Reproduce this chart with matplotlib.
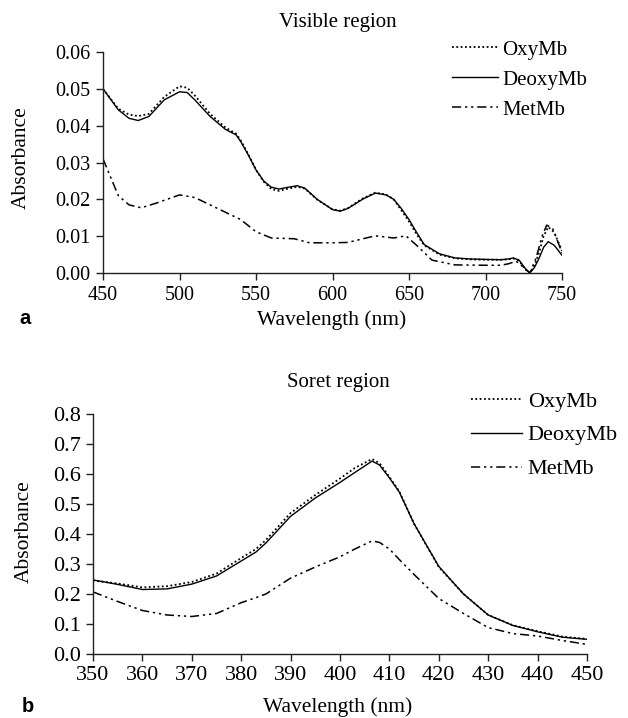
import numpy as np
import matplotlib
matplotlib.use("Agg")
import matplotlib.pyplot as plt

plt.rcParams['font.family'] = ['Liberation Serif', 'DejaVu Serif']

# visible region (a)
wl_vis = [450, 460, 467, 473, 480, 490, 500, 505, 510, 520, 530, 537, 540, 545, 550, 555, 560,
          565, 570, 577, 582, 590, 600, 605, 610, 620, 628, 635, 640, 645, 650, 655, 660, 670,
          680, 690, 700, 710, 715, 718, 722, 726, 729, 732, 735, 738, 741, 745, 750]
deoxy_vis = [0.0500, 0.0443, 0.0420, 0.0414, 0.0425, 0.0470, 0.0492, 0.0490, 0.0470, 0.0425,
             0.0390, 0.0375, 0.0357, 0.0320, 0.0280, 0.0250, 0.0233, 0.0228, 0.0232, 0.0237,
             0.0230, 0.0200, 0.0172, 0.0168, 0.0175, 0.0201, 0.0217, 0.0212, 0.0200, 0.0175,
             0.0145, 0.0110, 0.0077, 0.0052, 0.0041, 0.0038, 0.0037, 0.0036, 0.0038, 0.0041,
             0.0035, 0.0012, 0.0000, 0.0015, 0.0040, 0.0070, 0.0085, 0.0075, 0.0048]
oxy_vis = [0.0500, 0.0446, 0.0430, 0.0426, 0.0432, 0.0478, 0.0507, 0.0503, 0.0482, 0.0432,
           0.0395, 0.0378, 0.0360, 0.0322, 0.0280, 0.0248, 0.0228, 0.0223, 0.0228, 0.0234,
           0.0229, 0.0199, 0.0173, 0.0169, 0.0176, 0.0203, 0.0218, 0.0213, 0.0200, 0.0170,
           0.0140, 0.0105, 0.0075, 0.0050, 0.0040, 0.0037, 0.0036, 0.0036, 0.0037, 0.0040,
           0.0033, 0.0010, 0.0000, 0.0020, 0.0055, 0.0100, 0.0125, 0.0110, 0.0060]
wl_met_vis = [450, 455, 460, 467, 475, 485, 500, 510, 520, 530, 540, 550, 560, 575, 585, 600,
              610, 620, 628, 640, 648, 655, 665, 680, 700, 710, 715, 720, 725, 729, 733, 737,
              740, 744, 750]
met_vis = [0.0310, 0.0260, 0.0210, 0.0185, 0.0177, 0.0190, 0.0212, 0.0205, 0.0185, 0.0165,
           0.0145, 0.0112, 0.0095, 0.0093, 0.0082, 0.0082, 0.0083, 0.0093, 0.0101, 0.0095,
           0.0101, 0.0075, 0.0035, 0.0022, 0.0021, 0.0021, 0.0025, 0.0032, 0.0015, 0.0000,
           0.0040, 0.0100, 0.0130, 0.0120, 0.0055]

# soret region (b)
wl_sor = [350, 355, 360, 365, 370, 375, 380, 383, 385, 390, 395, 400, 403, 406.5, 408, 410,
          412, 415, 420, 425, 430, 435, 440, 445, 450]
deoxy_sor = [0.247, 0.232, 0.215, 0.217, 0.233, 0.260, 0.310, 0.340, 0.370, 0.459, 0.520,
             0.572, 0.605, 0.643, 0.630, 0.587, 0.540, 0.434, 0.292, 0.200, 0.130, 0.095,
             0.074, 0.056, 0.049]
oxy_sor = [0.245, 0.235, 0.222, 0.226, 0.240, 0.268, 0.320, 0.350, 0.380, 0.470, 0.530,
           0.585, 0.620, 0.650, 0.636, 0.590, 0.542, 0.434, 0.290, 0.200, 0.130, 0.096,
           0.076, 0.058, 0.050]
met_sor = [0.207, 0.175, 0.145, 0.130, 0.125, 0.135, 0.171, 0.188, 0.200, 0.253, 0.290,
           0.324, 0.350, 0.377, 0.372, 0.350, 0.315, 0.265, 0.185, 0.135, 0.088, 0.068,
           0.060, 0.045, 0.032]

labels = ["OxyMb", "DeoxyMb", "MetMb"]
dotted = (0, (1, 1.4))
dashdotdot = (0, (6, 2.5, 1.5, 2.5, 1.5, 2.5))

W, H = 628, 718
fig = plt.figure(figsize=(W / 100, H / 100), dpi=100)


def px(x, y):  # pixel -> figure fraction
    return x / W, 1 - y / H


def style(ax, fs):
    for s in ["top", "right"]:
        ax.spines[s].set_visible(False)
    for s in ["left", "bottom"]:
        ax.spines[s].set_linewidth(1.0)
        ax.spines[s].set_color("#222222")
    ax.tick_params(direction="out", length=5, width=1, color="#222222", labelsize=fs, pad=4)


def draw(ax, wl, oxy, deoxy, wl_met, met):
    ax.plot(wl, oxy, color="black", lw=1.3, ls=dotted, label=labels[0])
    ax.plot(wl, deoxy, color="black", lw=1.0, ls="-", label=labels[1])
    ax.plot(wl_met, met, color="black", lw=1.1, ls=dashdotdot, label=labels[2])


ax1 = fig.add_axes([103 / W, 1 - 273 / H, 459 / W, 221 / H])
draw(ax1, wl_vis, oxy_vis, deoxy_vis, wl_met_vis, met_vis)
ax1.set_xlim(450, 750)
ax1.set_ylim(0, 0.06)
ax1.set_xticks(np.arange(450, 751, 50))
ax1.set_yticks(np.arange(0, 0.061, 0.01))
ax1.set_yticklabels(["%.2f" % v for v in np.arange(0, 0.061, 0.01)])
style(ax1, 14.5)
ax1.legend(loc="upper left", bbox_to_anchor=px(452, 40), bbox_transform=fig.transFigure,
           frameon=False, fontsize=15, handlelength=2.2, handletextpad=0.2,
           labelspacing=0.5, borderpad=0, borderaxespad=0)

fig.text(*px(338, 22), "Visible region", ha="center", va="center", fontsize=15)
fig.text(*px(21, 158), "Absorbance", ha="center", va="center", rotation=90, fontsize=15.5)
fig.text(*px(332, 320), "Wavelength (nm)", ha="center", va="center", fontsize=15.5)
fig.text(*px(25, 318), "a", ha="center", va="center", fontsize=14.5, fontweight="bold",
         family="Liberation Sans")

ax2 = fig.add_axes([93 / W, 1 - 654 / H, 494 / W, 240 / H])
draw(ax2, wl_sor, oxy_sor, deoxy_sor, wl_sor, met_sor)
ax2.set_xlim(350, 450)
ax2.set_ylim(0, 0.8)
ax2.set_xticks(np.arange(350, 451, 10))
ax2.set_yticks(np.arange(0, 0.81, 0.1))
ax2.set_yticklabels(["%.1f" % v for v in np.arange(0, 0.81, 0.1)])
style(ax2, 16)
ax2.legend(loc="upper left", bbox_to_anchor=px(471, 391), bbox_transform=fig.transFigure,
           frameon=False, fontsize=16, handlelength=2.3, handletextpad=0.25,
           labelspacing=0.6, borderpad=0, borderaxespad=0)

fig.text(*px(338, 382), "Soret region", ha="center", va="center", fontsize=15)
fig.text(*px(24, 532), "Absorbance", ha="center", va="center", rotation=90, fontsize=15.5)
fig.text(*px(338, 707), "Wavelength (nm)", ha="center", va="center", fontsize=15.5)
fig.text(*px(28, 707), "b", ha="center", va="center", fontsize=14.5, fontweight="bold",
         family="Liberation Sans")

fig.savefig("out.png", dpi=100)
